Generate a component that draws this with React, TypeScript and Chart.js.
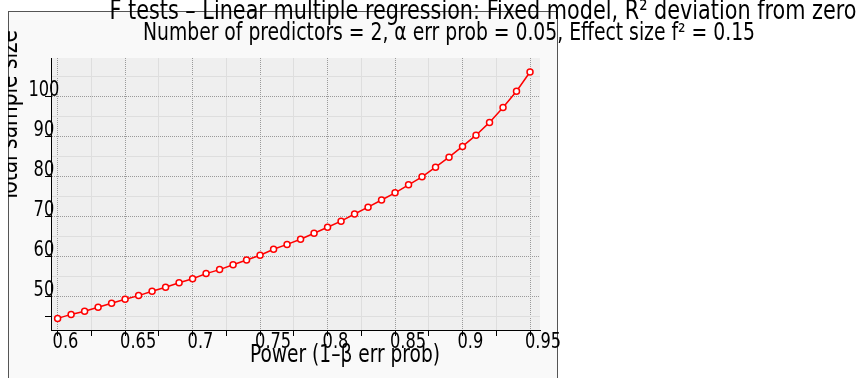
import React, { useEffect, useRef } from 'react';
import { Chart, registerables } from 'chart.js';

Chart.register(...registerables);

const powerValues = [
  0.60, 0.61, 0.62, 0.63, 0.64, 0.65, 0.66, 0.67, 0.68, 0.69,
  0.70, 0.71, 0.72, 0.73, 0.74, 0.75, 0.76, 0.77, 0.78, 0.79,
  0.80, 0.81, 0.82, 0.83, 0.84, 0.85, 0.86, 0.87, 0.88, 0.89,
  0.90, 0.91, 0.92, 0.93, 0.94, 0.95,
];
const sampleSizes = [
  44.6, 45.6, 46.4, 47.4, 48.4, 49.4, 50.3, 51.4, 52.4, 53.5,
  54.5, 55.8, 56.8, 58.0, 59.2, 60.4, 61.9, 63.1, 64.4, 65.9,
  67.4, 68.9, 70.7, 72.4, 74.2, 76.0, 78.0, 80.0, 82.4, 84.9,
  87.6, 90.4, 93.6, 97.3, 101.4, 106.2,
];
const xMajorTicks = [0.6, 0.65, 0.7, 0.75, 0.8, 0.85, 0.9, 0.95];
const xMinorTicks = [0.625, 0.675, 0.725, 0.775, 0.825, 0.875, 0.925];
const yMajorTicks = [50, 60, 70, 80, 90, 100];
const yMinorTicks = [45, 55, 65, 75, 85, 95, 105];
const xRange = [0.5951, 0.9574];
const yRange = [41.7, 109.7];

const titleLine1 = 'F tests \u2013 Linear multiple regression: Fixed model, R\u00b2 deviation from zero';
const titleLine2 = 'Number of predictors = 2, \u03b1 err prob = 0.05, Effect size f\u00b2 = 0.15';
const xAxisTitle = 'Power (1\u2013\u03b2 err prob)';
const yAxisTitle = 'Total sample size';

const FONT = "'DejaVu Sans Condensed', 'Liberation Sans', sans-serif";
const TICK_SQUEEZE = 0.82;

const drawFitted = (ctx: any, text: string, cx: number, y: number, size: number, width: number) => {
  ctx.font = `${size}px ${FONT}`;
  const w = ctx.measureText(text).width;
  ctx.save();
  ctx.translate(cx, y);
  ctx.scale(width / w, 1);
  ctx.textAlign = 'center';
  ctx.fillText(text, 0, 0);
  ctx.restore();
};

// Condense the library-drawn tick labels horizontally (narrow face of the original).
const condensePlugin = {
  id: 'condensePlugin',
  afterLayout(chart: any) {
    ['x', 'y'].forEach((id) => {
      const s = chart.scales[id];
      if (!s || s.__condensed) return;
      const orig = s.drawLabels.bind(s);
      s.drawLabels = (area: any) => {
        const ctx = chart.ctx;
        const of = ctx.fillText;
        ctx.fillText = function (t: string, x: number, y: number) {
          const w = this.measureText(t).width;
          return of.call(this, t, x, y, w * TICK_SQUEEZE);
        };
        try { orig(area); } finally { ctx.fillText = of; }
      };
      s.__condensed = true;
    });
  },
};

const framePlugin = {
  id: 'framePlugin',
  beforeDraw(chart: any) {
    const { ctx, chartArea } = chart;
    ctx.save();
    ctx.fillStyle = '#f9f9f9';
    ctx.fillRect(8, 11, 549, 400);
    ctx.strokeStyle = '#555555';
    ctx.lineWidth = 1;
    ctx.strokeRect(8.5, 11.5, 549, 400);
    ctx.fillStyle = '#efefef';
    ctx.fillRect(chartArea.left, chartArea.top, chartArea.right - chartArea.left, chartArea.bottom - chartArea.top);
    ctx.restore();
  },
  afterDraw(chart: any) {
    const { ctx } = chart;
    ctx.save();
    ctx.fillStyle = '#000';
    ctx.textBaseline = 'alphabetic';
    drawFitted(ctx, titleLine1, 483, 19, 26, 747);
    drawFitted(ctx, titleLine2, 449, 40, 24, 612);
    drawFitted(ctx, xAxisTitle, 345, 362, 24, 190);
    ctx.beginPath();
    ctx.rect(8, 11, 549, 400);
    ctx.clip();
    ctx.translate(17, 116);
    ctx.rotate(-Math.PI / 2);
    drawFitted(ctx, yAxisTitle, 0, 0, 26, 172);
    ctx.restore();
  },
};

const fmt = (v: number) => String(Math.round(v * 1000) / 1000);

export default function App() {
  const canvasRef = useRef<HTMLCanvasElement | null>(null);

  useEffect(() => {
    if (!canvasRef.current) return;
    const chart = new Chart(canvasRef.current, {
      type: 'line',
      data: {
        datasets: [
          {
            data: powerValues.map((p, i) => ({ x: p, y: sampleSizes[i] })),
            borderColor: '#ff0000',
            borderWidth: 1.5,
            pointRadius: 3,
            pointBackgroundColor: '#ffffff',
            pointBorderColor: '#ff0000',
            pointBorderWidth: 1.5,
            tension: 0,
          },
        ],
      },
      options: {
        responsive: false,
        animation: false,
        events: [],
        layout: { padding: { left: 0, top: 58, right: 320, bottom: 0 } },
        plugins: {
          legend: { display: false },
          tooltip: { enabled: false },
          title: { display: false },
        },
        scales: {
          x2: {
            type: 'linear',
            position: 'bottom',
            weight: -1,
            min: xRange[0],
            max: xRange[1],
            afterBuildTicks: (s: any) => { s.ticks = xMinorTicks.map((v) => ({ value: v })); },
            afterFit: (s: any) => { s.height = 0; },
            grid: { color: '#dedede', lineWidth: 1, drawTicks: true, tickLength: 6, tickColor: '#000' },
            border: { display: false },
            ticks: { display: false },
          },
          x: {
            type: 'linear',
            position: 'bottom',
            weight: 0,
            min: xRange[0],
            max: xRange[1],
            afterBuildTicks: (s: any) => { s.ticks = xMajorTicks.map((v) => ({ value: v })); },
            afterFit: (s: any) => { s.height = 48; },
            grid: { color: '#9a9a9a', lineWidth: 1, tickLength: 6, tickColor: '#000', tickBorderDash: [] },
            border: { display: true, color: '#000', width: 1, dash: [1, 1] },
            ticks: {
              align: 'start',
              padding: -7,
              labelOffset: -5,
              color: '#000',
              autoSkip: false,
              maxRotation: 0,
              font: { family: FONT, size: 22 },
              callback: (v: any) => fmt(Number(v)),
            },
          },
          y2: {
            type: 'linear',
            position: 'left',
            weight: -1,
            min: yRange[0],
            max: yRange[1],
            afterBuildTicks: (s: any) => { s.ticks = yMinorTicks.map((v) => ({ value: v })); },
            afterFit: (s: any) => { s.width = 0; },
            grid: {
              color: '#dedede',
              lineWidth: 1,
              tickLength: 6,
              tickColor: (c: any) => (c.tick && c.tick.value === 45 ? '#000' : 'rgba(0,0,0,0)'),
            },
            border: { display: false },
            ticks: { display: false },
          },
          y: {
            type: 'linear',
            position: 'left',
            weight: 0,
            min: yRange[0],
            max: yRange[1],
            afterBuildTicks: (s: any) => { s.ticks = yMajorTicks.map((v) => ({ value: v })); },
            afterFit: (s: any) => { s.width = 51; },
            grid: { color: '#9a9a9a', lineWidth: 1, tickLength: 6, tickColor: '#000', tickBorderDash: [] },
            border: { display: true, color: '#000', width: 1, dash: [1, 1] },
            ticks: {
              mirror: true,
              crossAlign: 'center',
              padding: -26,
              labelOffset: -7,
              color: '#000',
              autoSkip: false,
              font: { family: FONT, size: 22 },
              callback: (v: any) => fmt(Number(v)),
            },
          },
        },
      } as any,
      plugins: [framePlugin, condensePlugin],
    });
    return () => chart.destroy();
  }, []);

  return (
    <div style={{ position: 'fixed', left: 0, top: 0, width: 860, height: 378, background: '#fff' }}>
      <canvas ref={canvasRef} width={860} height={378} style={{ display: 'block' }} />
    </div>
  );
}
